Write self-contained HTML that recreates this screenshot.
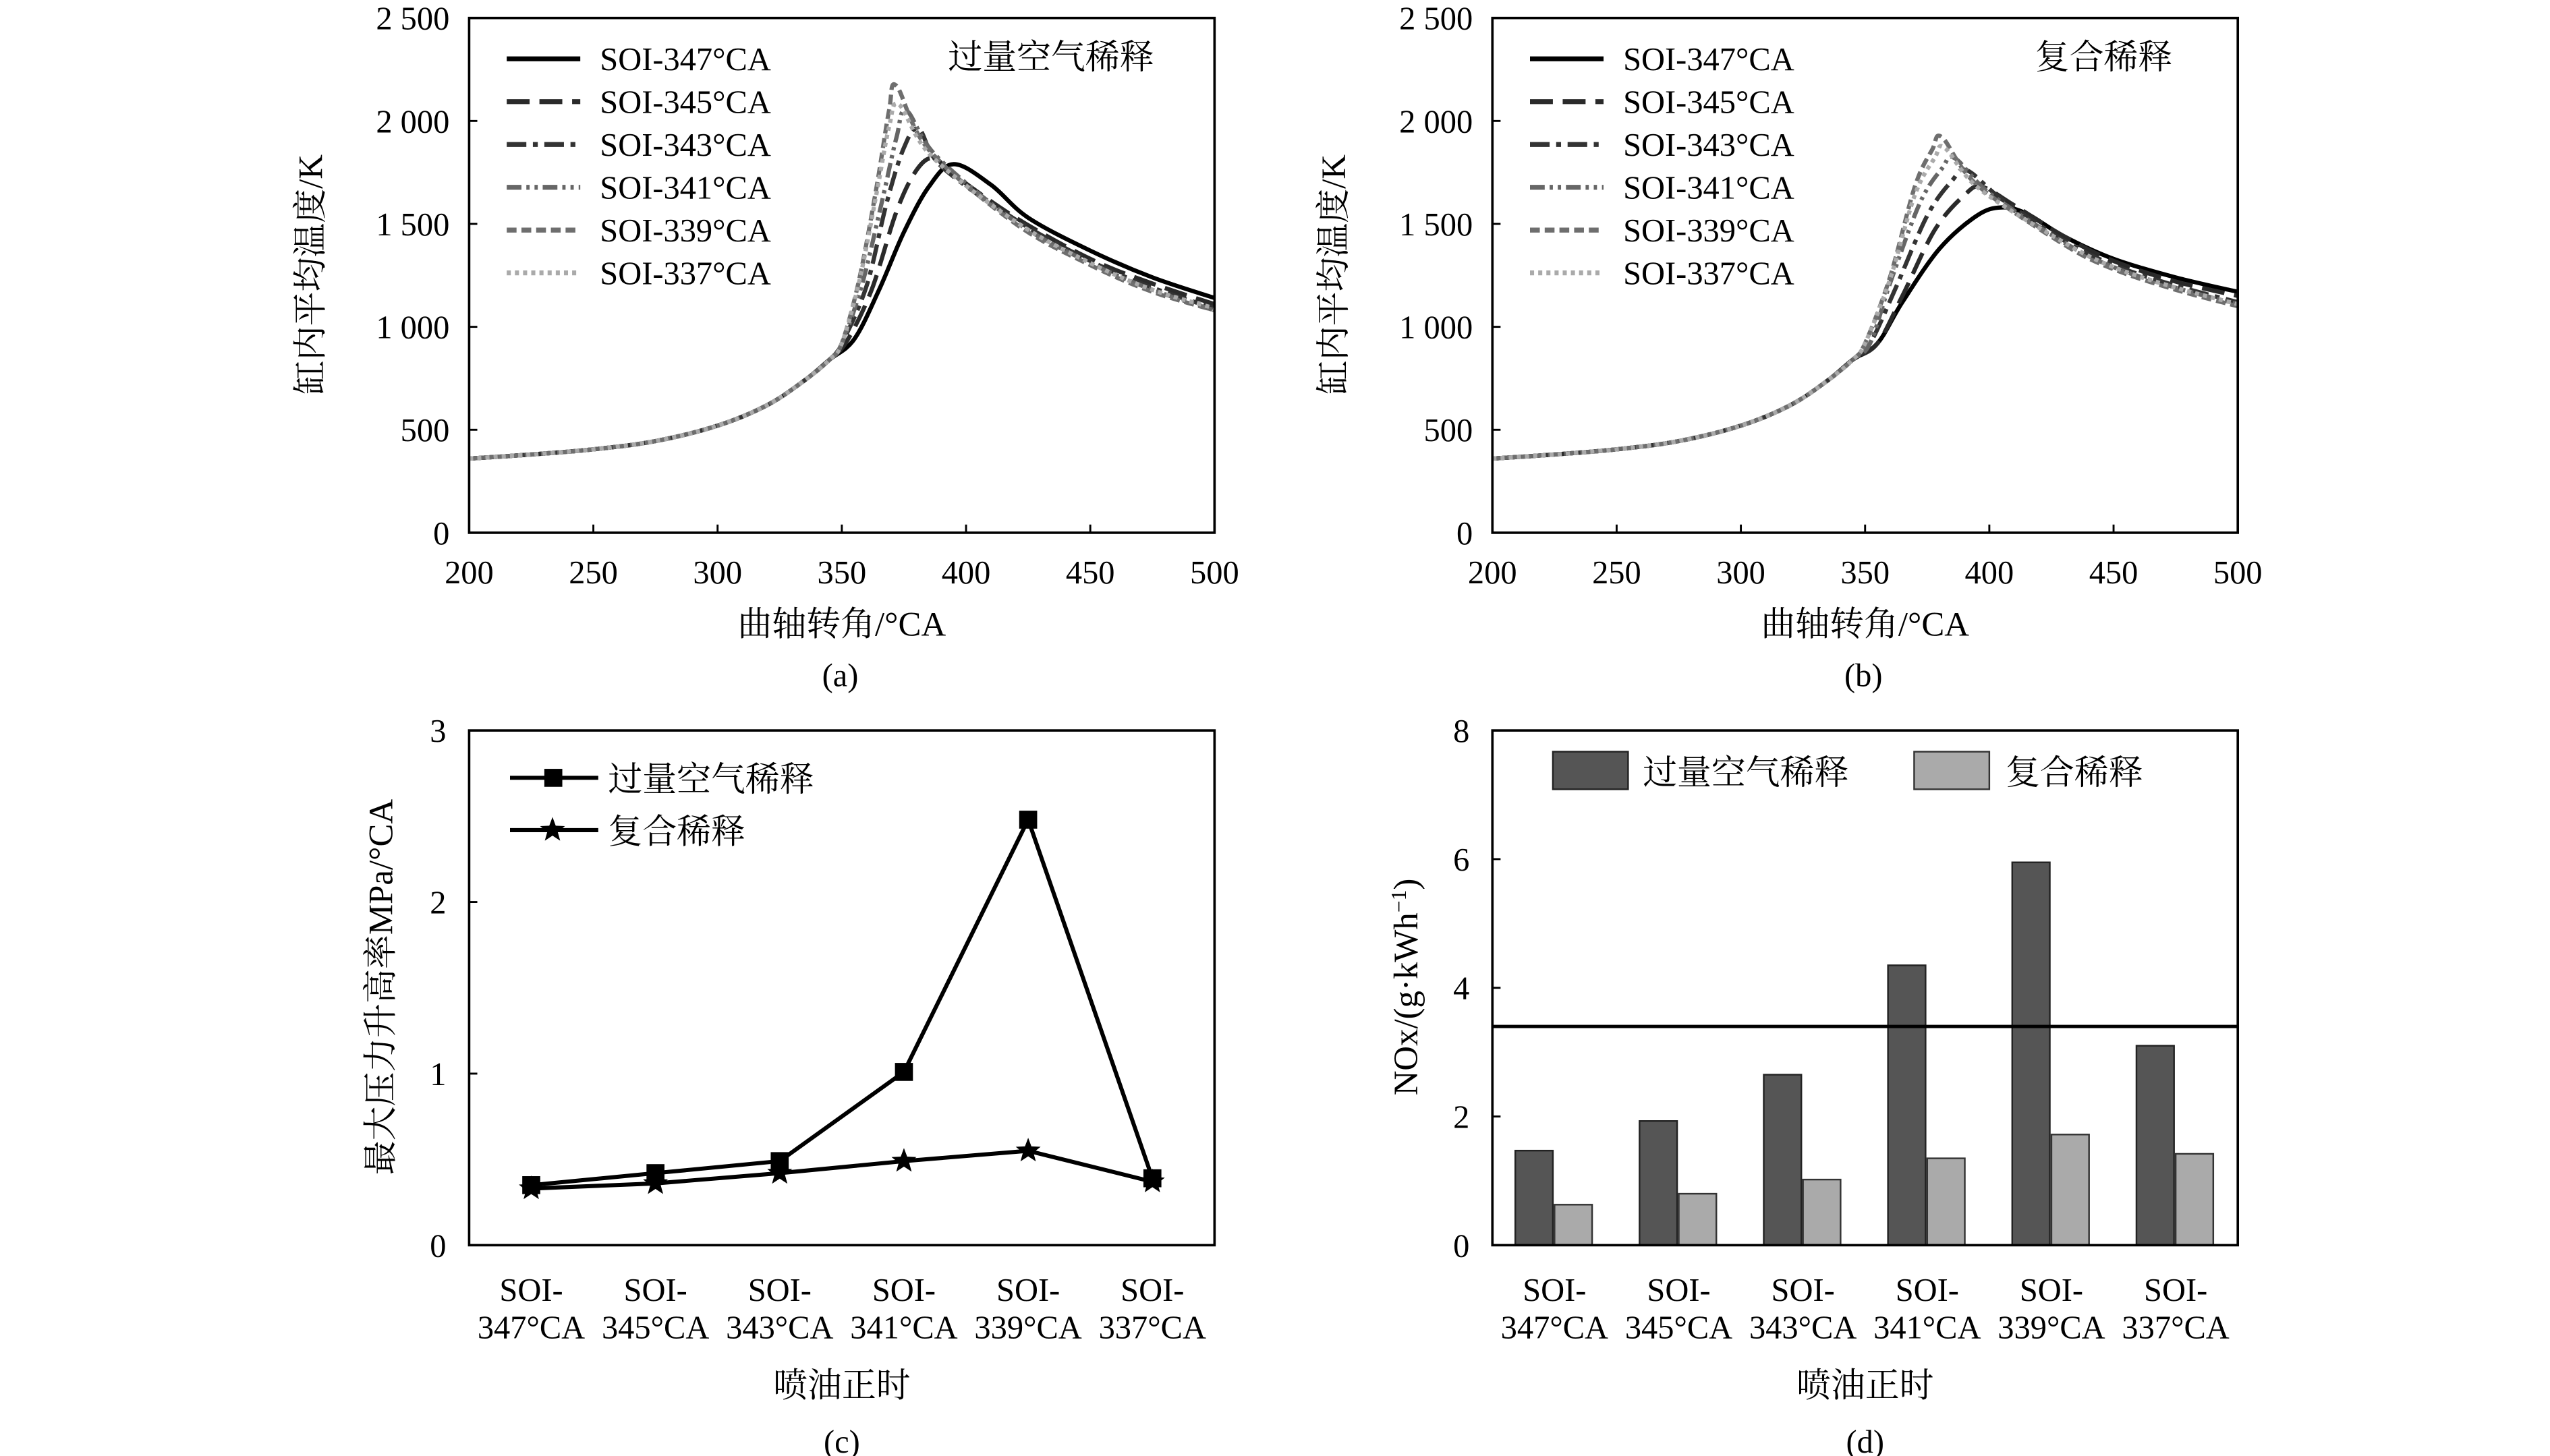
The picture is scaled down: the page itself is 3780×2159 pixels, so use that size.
<!DOCTYPE html>
<html><head><meta charset="utf-8">
<style>
html,body{margin:0;padding:0;background:#fff;}
svg{display:block;}
text{font-family:"Liberation Serif","Noto Serif CJK SC",serif;fill:#000;}
</style></head>
<body>
<svg id="fig" width="3780" height="2159" viewBox="0 0 1560 891" xmlns="http://www.w3.org/2000/svg"></svg>
<script>
// ---------- data ----------
const compressionCA = [200,225,250,275,300,320,335,345];
const compressionT  = [360,380,405,445,520,620,740,840];

const seriesNames = ['SOI-347°CA','SOI-345°CA','SOI-343°CA','SOI-341°CA','SOI-339°CA','SOI-337°CA'];
// panel a (excess air dilution)
const airCA = [
 [355,365,375,385,395,410,425,450,475,500],
 [352,362,372,380,387,395,420,450,475,500],
 [350,360,368,375,381,390,420,450,475,500],
 [350,358,366,372,376,388,420,450,475,500],
 [350,357,364,369,372,385,420,450,475,500],
 [350,357,364,369,373,386,420,450,475,500]
];
const airT = [
 [940,1180,1460,1680,1790,1690,1530,1370,1240,1140],
 [930,1180,1560,1760,1820,1740,1530,1330,1210,1110],
 [920,1200,1600,1870,1960,1780,1520,1320,1190,1090],
 [920,1200,1600,1920,2050,1830,1510,1310,1180,1080],
 [920,1230,1680,2050,2170,1860,1500,1300,1170,1080],
 [920,1220,1650,1970,2080,1830,1510,1310,1180,1090]
];
// panel b (compound dilution)
const cmpCA = [
 [355,365,380,395,405,415,430,450,475,500],
 [355,365,378,390,397,410,430,450,475,500],
 [352,362,375,385,391,405,430,450,475,500],
 [352,360,372,381,386,400,430,450,475,500],
 [350,360,370,377,381,395,430,450,475,500],
 [350,360,370,378,382,396,430,450,475,500]
];
const cmpT = [
 [920,1120,1380,1540,1580,1550,1440,1330,1240,1170],
 [920,1150,1470,1640,1680,1590,1440,1320,1220,1150],
 [920,1180,1540,1710,1760,1620,1420,1300,1200,1120],
 [920,1210,1600,1770,1820,1650,1410,1290,1190,1110],
 [920,1240,1680,1860,1920,1690,1400,1280,1180,1100],
 [920,1230,1640,1820,1870,1670,1410,1290,1190,1110]
];
const timingTop = ['SOI-','SOI-','SOI-','SOI-','SOI-','SOI-'];
const timingBot = ['347°CA','345°CA','343°CA','341°CA','339°CA','337°CA'];
const rateAir = [0.35,0.42,0.49,1.01,2.48,0.39];
const rateCmp = [0.33,0.36,0.42,0.49,0.55,0.37];
const noxAir = [1.47,1.93,2.65,4.35,5.95,3.10];
const noxCmp = [0.63,0.80,1.02,1.35,1.72,1.42];
const noxLimit = 3.4;
const tempTicks = [0,500,1000,1500,2000,2500];
const tempTickLabels = ['0','500','1 000','1 500','2 000','2 500'];
const caTicks = [200,250,300,350,400,450,500];
const rateTicks = [0,1,2,3];
const noxTicks = [0,2,4,6,8];

// ---------- helpers ----------
const NS='http://www.w3.org/2000/svg';
const svg=document.getElementById('fig');
function el(tag,attrs,parent,txt){const e=document.createElementNS(NS,tag);for(const k in attrs)e.setAttribute(k,attrs[k]);if(txt!==undefined)e.textContent=txt;(parent||svg).appendChild(e);return e;}
function lin(d0,d1,r0,r1){return v=>r0+(v-d0)/(d1-d0)*(r1-r0);}
function smooth(pts){let d='M'+pts[0][0]+','+pts[0][1];for(let i=0;i<pts.length-1;i++){const p0=pts[i-1]||pts[i],p1=pts[i],p2=pts[i+1],p3=pts[i+2]||p2;const c1=[p1[0]+(p2[0]-p0[0])/6,p1[1]+(p2[1]-p0[1])/6],c2=[p2[0]-(p3[0]-p1[0])/6,p2[1]-(p3[1]-p1[1])/6];d+=` C${c1[0]},${c1[1]} ${c2[0]},${c2[1]} ${p2[0]},${p2[1]}`;}return d;}
const styles=[
 {stroke:'#000',dash:'',w:2.6},
 {stroke:'#2a2a2a',dash:'14 6',w:2.6},
 {stroke:'#333',dash:'12 4 3 4',w:2.6},
 {stroke:'#666',dash:'9 3 2 3 2 3',w:2.6},
 {stroke:'#6e6e6e',dash:'6 3',w:2.6},
 {stroke:'#aaa',dash:'2.5 2.5',w:2.6}
];

function tempPanel(px,name,CAs,Ts,label,plabel){
  const x0=px,x1=px+456,y0=11,y1=326;
  const g=el('g',{});
  
  
  const X=lin(200,500,x0,x1),Y=lin(0,2500,y1,y0);
  tempTicks.forEach((t,i)=>{const y=Y(t);el('line',{x1:x0,x2:x0+5,y1:y,y2:y,stroke:'#000','stroke-width':1.2},g);
    const tl=el('text',{x:x0-12,y:y+7,'text-anchor':'end','font-size':20},g,tempTickLabels[i]);
    });
  caTicks.forEach(t=>{const x=X(t);el('line',{x1:x,x2:x,y1:y1,y2:y1-5,stroke:'#000','stroke-width':1.2},g);
    const tl=el('text',{x:x,y:y1+31,'text-anchor':'middle','font-size':20},g,String(t));
    });
  for(let s=0;s<6;s++){
    const pts=[];compressionCA.forEach((c,i)=>pts.push([X(c),Y(compressionT[i])]));
    CAs[s].forEach((c,i)=>pts.push([X(c),Y(Ts[s][i])]));
    const p=el('path',{d:smooth(pts),fill:'none',stroke:styles[s].stroke,'stroke-width':styles[s].w,'stroke-dasharray':styles[s].dash},g);
    
    
  }
  el('rect',{x:x0,y:y0,width:x1-x0,height:y1-y0,fill:'none',stroke:'#000','stroke-width':1.5},g);
  seriesNames.forEach((n,i)=>{const y=36+i*26.2;
    const l=el('line',{x1:x0+23,x2:x0+68,y1:y,y2:y,stroke:styles[i].stroke,'stroke-width':3,'stroke-dasharray':styles[i].dash},g);
    
    const t=el('text',{x:x0+80,y:y+7,'font-size':20},g,n);
    });
  const lt=el('text',{x:label.x,y:42,'font-size':21},g,label.t);
  
  const xt=el('text',{x:(x0+x1)/2,y:389,'text-anchor':'middle','font-size':21},g,'曲轴转角/°CA');
  
  const yt=el('text',{x:0,y:0,'text-anchor':'middle','font-size':21,transform:`translate(${x0-90},168) rotate(-90)`},g,'缸内平均温度/K');
  
  const pl=el('text',{x:(x0+x1)/2-1,y:420,'text-anchor':'middle','font-size':20},g,plabel);
  
}
tempPanel(287,'panel-a-temperature',airCA,airT,{x:580,t:'过量空气稀释'},'(a)');
tempPanel(913,'panel-b-temperature',cmpCA,cmpT,{x:1245,t:'复合稀释'},'(b)');

function catAxis(g,x0,x1,y1){
  const step=(x1-x0)/6;
  timingTop.forEach((t,i)=>{const cx=x0+step*(i+0.5);
    const a=el('text',{x:cx,y:796,'text-anchor':'middle','font-size':20},g,t);
    
    const b=el('text',{x:cx,y:819,'text-anchor':'middle','font-size':20},g,timingBot[i]);
    });
  const xt=el('text',{x:(x0+x1)/2,y:855,'text-anchor':'middle','font-size':21},g,'喷油正时');
  
  return i=>x0+step*(i+0.5);
}

// panel c
(function(){
  const x0=287,x1=743,y0=447,y1=762;
  const g=el('g',{});
  
  
  const Y=lin(0,3,y1,y0);
  rateTicks.forEach(t=>{const y=Y(t);el('line',{x1:x0,x2:x0+5,y1:y,y2:y,stroke:'#000','stroke-width':1.2},g);
    const tl=el('text',{x:x0-14,y:y+7,'text-anchor':'end','font-size':20},g,String(t));
    });
  const X=catAxis(g,x0,x1,y1);
  function star(cx,cy,r){let d='';for(let k=0;k<10;k++){const a=-Math.PI/2+k*Math.PI/5,rr=k%2?r*0.42:r;d+=(k?'L':'M')+(cx+rr*Math.cos(a))+','+(cy+rr*Math.sin(a));}return d+'Z';}
  const pa=el('polyline',{points:rateAir.map((v,i)=>X(i)+','+Y(v)).join(' '),fill:'none',stroke:'#000','stroke-width':2.5},g);
  
  const pc=el('polyline',{points:rateCmp.map((v,i)=>X(i)+','+Y(v)).join(' '),fill:'none',stroke:'#000','stroke-width':2.5},g);
  
  rateAir.forEach((v,i)=>{const m=el('rect',{x:X(i)-5.5,y:Y(v)-5.5,width:11,height:11,fill:'#000'},g);
    });
  rateCmp.forEach((v,i)=>{const m=el('path',{d:star(X(i),Y(v),8),fill:'#000'},g);
    });
  el('rect',{x:x0,y:y0,width:x1-x0,height:y1-y0,fill:'none',stroke:'#000','stroke-width':1.5},g);
  el('line',{x1:312,x2:366,y1:476,y2:476,stroke:'#000','stroke-width':2.5},g);
  el('rect',{x:333,y:470.5,width:11,height:11,fill:'#000'},g);
  let t=el('text',{x:372,y:484,'font-size':21},g,'过量空气稀释');
  el('line',{x1:312,x2:366,y1:508,y2:508,stroke:'#000','stroke-width':2.5},g);
  el('path',{d:star(338,508,8),fill:'#000'},g);
  t=el('text',{x:372,y:516,'font-size':21},g,'复合稀释');
  const yt=el('text',{x:0,y:0,'text-anchor':'middle','font-size':21,transform:`translate(240,604) rotate(-90)`},g,'最大压力升高率MPa/°CA');
  
  const pl=el('text',{x:515,y:889,'text-anchor':'middle','font-size':20},g,'(c)');
  
})();

// panel d
(function(){
  const x0=913,x1=1369,y0=447,y1=762;
  const g=el('g',{});
  
  
  const Y=lin(0,8,y1,y0);
  noxTicks.forEach(t=>{const y=Y(t);el('line',{x1:x0,x2:x0+5,y1:y,y2:y,stroke:'#000','stroke-width':1.2},g);
    const tl=el('text',{x:x0-14,y:y+7,'text-anchor':'end','font-size':20},g,String(t));
    });
  const X=catAxis(g,x0,x1,y1);
  noxAir.forEach((v,i)=>{const b=el('rect',{x:X(i)-24,y:Y(v),width:23,height:Y(0)-Y(v),fill:'#555',stroke:'#222','stroke-width':1},g);
    });
  noxCmp.forEach((v,i)=>{const b=el('rect',{x:X(i),y:Y(v),width:23,height:Y(0)-Y(v),fill:'#aaa',stroke:'#333','stroke-width':1},g);
    });
  const lim=el('line',{x1:x0,x2:x1,y1:Y(noxLimit),y2:Y(noxLimit),stroke:'#000','stroke-width':2},g);
  
  el('rect',{x:x0,y:y0,width:x1-x0,height:y1-y0,fill:'none',stroke:'#000','stroke-width':1.5},g);
  let r=el('rect',{x:950,y:460,width:46,height:23,fill:'#555',stroke:'#222'},g);
  let t=el('text',{x:1005,y:480,'font-size':21},g,'过量空气稀释');
  r=el('rect',{x:1171,y:460,width:46,height:23,fill:'#aaa',stroke:'#333'},g);
  t=el('text',{x:1227,y:480,'font-size':21},g,'复合稀释');
  const yt=el('text',{x:0,y:0,'text-anchor':'middle','font-size':21,transform:`translate(867,604) rotate(-90)`},g);
  
  yt.textContent='NOx/(g·kWh';
  el('tspan',{dy:-7,'font-size':13},yt,'−1');
  el('tspan',{dy:7},yt,')');
  const pl=el('text',{x:1141,y:889,'text-anchor':'middle','font-size':20},g,'(d)');
  
})();
</script>
</body></html>
